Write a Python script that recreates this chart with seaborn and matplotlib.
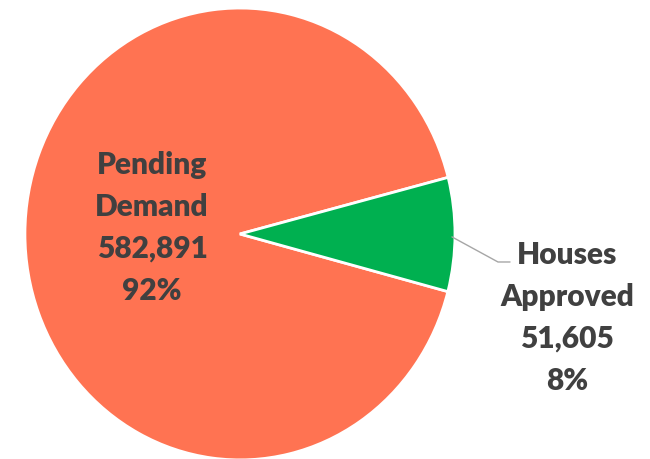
import matplotlib
matplotlib.use("Agg")
import matplotlib.pyplot as plt
import seaborn as sns

categories = ["Pending\nDemand", "Houses\nApproved"]
values = [582891, 51605]
colors = ["#FF7352", "#00B050"]

sns.set_theme(style="white")
plt.rcParams["font.family"] = ["Lato", "DejaVu Sans"]


def make_label(name, value, total):
    return f"{name}\n{value:,}\n{value / total * 100:.0f}%"


def main():
    total = sum(values)
    fig = plt.figure(figsize=(6.5, 4.6), dpi=100)
    ax = fig.add_axes([0, 0, 1, 1])

    ax.pie(values, colors=colors, startangle=14.5, counterclock=True,
           wedgeprops=dict(edgecolor="white", linewidth=2))
    ax.set_aspect("auto")
    ax.set_xlim(-1.116, 1.907)
    ax.set_ylim(-0.996, 1.040)
    ax.axis("off")

    txt = dict(ha="center", va="center", fontsize=21.5, fontweight="heavy",
               color="#404040", linespacing=1.6)
    ax.text(-0.409, 0.031, make_label(categories[0], values[0], total), **txt)
    ax.text(1.521, -0.367, make_label(categories[1], values[1], total), **txt)

    # leader line for the small slice
    ax.plot([0.986, 1.2, 1.256], [-0.013, -0.124, -0.124],
            color="#A6A6A6", linewidth=1)

    fig.savefig("out.png", dpi=100)


if __name__ == "__main__":
    main()
